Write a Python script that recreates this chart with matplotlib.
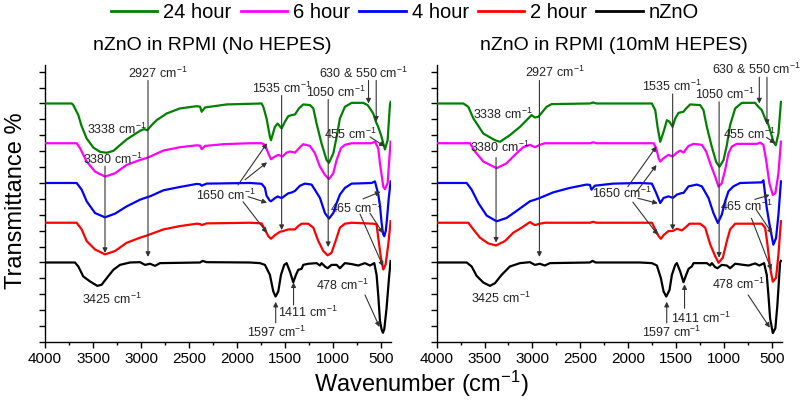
import matplotlib
matplotlib.use("Agg")
import matplotlib.pyplot as plt
from matplotlib.lines import Line2D
import numpy as np

plt.rcParams['font.family'] = ['Liberation Sans', 'DejaVu Sans']
plt.rcParams['mathtext.fontset'] = 'custom'
plt.rcParams['mathtext.rm'] = 'Liberation Sans'
plt.rcParams['mathtext.it'] = 'Liberation Sans:italic'
plt.rcParams['mathtext.bf'] = 'Liberation Sans:bold'

# ---------------- data ----------------
SERIES = ['24 hour', '6 hour', '4 hour', '2 hour', 'nZnO']
COLORS = ['#008000', '#ff00ff', '#0000ff', '#ff0000', '#000000']
BASELINES = [15, 12.5, 10, 7.5, 5]
PANEL_TITLES = ['nZnO in RPMI (No HEPES)', 'nZnO in RPMI (10mM HEPES)']
XTICKS = [4000, 3500, 3000, 2500, 2000, 1500, 1000, 500]

# Left panel (No HEPES)
L24_WN = [4000, 3722, 3705, 3653, 3620, 3566, 3497, 3427, 3358, 3288, 3219, 3149, 3080, 3010, 2969, 2934, 2889, 2837, 2733, 2594, 2420, 2385, 2368, 2333, 2108, 1865, 1744, 1726, 1692, 1657, 1646, 1605, 1577, 1535, 1501, 1466, 1431, 1396, 1355, 1310, 1240, 1205, 1171, 1119, 1067, 1042, 997, 962, 928, 876, 806, 685, 640, 615, 581, 553, 529, 494, 459, 431, 407, 400]
L24_T = [0, 0, -0.10, -0.73, -1.40, -2.20, -2.77, -3.04, -3.10, -2.98, -2.62, -2.26, -1.99, -1.72, -1.61, -1.68, -1.36, -1.05, -0.63, -0.31, -0.17, -0.20, -0.52, -0.25, -0.06, -0.02, 0, -0.21, -0.94, -2.10, -2.31, -1.47, -1.26, -1.57, -1.15, -0.80, -0.73, -0.69, -0.31, -0.06, -0.10, -0.31, -1.26, -2.52, -3.56, -3.73, -3.14, -2.10, -0.94, -0.21, 0.04, 0.04, -0.10, -0.31, -0.63, -1.15, -1.47, -2.10, -2.89, -2.31, -0.10, 0.10]

L6_WN = [4000, 3670, 3635, 3566, 3479, 3375, 3271, 3149, 3010, 2948, 2906, 2767, 2594, 2420, 2385, 2368, 2333, 2142, 1865, 1744, 1709, 1674, 1646, 1605, 1570, 1528, 1483, 1449, 1396, 1344, 1310, 1240, 1188, 1136, 1084, 1042, 997, 962, 917, 876, 806, 598, 563, 529, 511, 476, 459, 431, 414, 400]
L6_T = [0, 0, -0.31, -1.15, -1.78, -2.10, -1.89, -1.36, -1.05, -0.94, -0.84, -0.46, -0.25, -0.13, -0.15, -0.38, -0.17, -0.06, 0, 0, -0.10, -0.63, -1.01, -0.84, -0.73, -0.84, -0.59, -0.52, -0.59, -0.25, -0.06, -0.17, -0.63, -1.47, -1.99, -2.26, -1.89, -1.05, -0.31, -0.10, 0, 0, 0.10, -0.31, -1.26, -2.73, -2.89, -2.52, -1.05, 0.10]

L4_WN = [4000, 3670, 3618, 3566, 3479, 3375, 3271, 3149, 3010, 2958, 2906, 2767, 2594, 2420, 2385, 2368, 2316, 1865, 1744, 1709, 1692, 1660, 1646, 1605, 1577, 1535, 1501, 1466, 1431, 1396, 1344, 1292, 1223, 1181, 1136, 1084, 1042, 997, 962, 928, 876, 806, 598, 563, 529, 511, 494, 478, 466, 450, 438, 420, 400]
L4_T = [0, 0, -0.42, -1.15, -1.89, -2.16, -1.93, -1.47, -1.05, -0.94, -0.84, -0.46, -0.25, -0.06, -0.08, -0.17, -0.04, 0, -0.05, -0.30, -0.80, -1.10, -1.15, -0.95, -0.85, -0.95, -0.80, -0.65, -0.60, -0.50, -0.17, -0.04, -0.10, -0.50, -0.94, -1.89, -2.24, -1.89, -1.26, -0.73, -0.31, -0.04, 0, 0.10, -0.70, -1.40, -2.50, -3.20, -3.35, -3.00, -2.30, -1.00, 0.10]

L2_WN = [4000, 3670, 3618, 3566, 3479, 3375, 3271, 3149, 3010, 2958, 2906, 2767, 2594, 2420, 2385, 2368, 2316, 1865, 1744, 1709, 1674, 1646, 1605, 1553, 1518, 1466, 1396, 1362, 1327, 1258, 1205, 1153, 1101, 1056, 1015, 973, 928, 876, 806, 580, 546, 529, 501, 476, 452, 424, 400]
L2_T = [0, 0, -0.42, -1.15, -1.68, -1.99, -1.78, -1.26, -0.94, -0.84, -0.73, -0.42, -0.21, -0.06, -0.08, -0.15, -0.04, 0, -0.04, -0.42, -0.84, -1.01, -0.78, -0.57, -0.52, -0.42, -0.42, -0.21, -0.06, -0.06, -0.31, -1.15, -1.78, -2.05, -1.89, -1.15, -0.31, -0.06, 0, -0.06, -0.10, -0.94, -2.20, -2.94, -2.62, -1.36, 0.10]

L0_WN = [4000, 3688, 3653, 3601, 3531, 3455, 3410, 3358, 3288, 3219, 3115, 3010, 2958, 2906, 2854, 2802, 2385, 2358, 2316, 1865, 1761, 1709, 1657, 1622, 1598, 1570, 1542, 1508, 1483, 1449, 1414, 1386, 1362, 1327, 1310, 1258, 1171, 1136, 1119, 1084, 1056, 1015, 962, 928, 876, 806, 737, 667, 615, 570, 546, 529, 511, 494, 480, 466, 442, 417, 400]
L0_T = [0, 0, -0.25, -0.88, -1.19, -1.47, -1.40, -0.99, -0.46, -0.15, 0, 0.02, -0.15, -0.08, -0.21, -0.04, 0, 0.10, 0.02, 0, -0.04, -0.15, -0.78, -1.82, -2.14, -1.82, -0.78, -0.15, -0.04, -0.57, -1.24, -0.78, -0.46, -0.40, -0.15, -0.08, -0.04, -0.19, -0.04, -0.25, -0.36, -0.15, -0.15, -0.36, -0.04, -0.10, -0.19, -0.04, -0.19, -0.04, -0.78, -2.03, -3.65, -4.20, -4.42, -4.20, -2.87, -0.99, 0.10]

# Right panel (10mM HEPES)
R24_WN = [4000, 3722, 3670, 3617, 3513, 3391, 3339, 3235, 3130, 3043, 3009, 2974, 2939, 2904, 2852, 2800, 2400, 2365, 2330, 1878, 1752, 1717, 1693, 1665, 1630, 1595, 1568, 1536, 1508, 1474, 1422, 1394, 1352, 1248, 1213, 1178, 1126, 1081, 1046, 1004, 969, 935, 882, 813, 674, 639, 604, 569, 545, 517, 483, 458, 430, 404]
R24_T = [0, 0, -0.21, -0.94, -1.89, -2.31, -2.41, -1.99, -1.47, -0.94, -0.73, -0.88, -0.84, -0.59, -0.21, -0.04, 0, 0.06, 0, 0, 0, -0.42, -1.47, -2.41, -1.78, -1.05, -1.15, -1.47, -0.94, -0.59, -0.52, -0.31, -0.06, -0.10, -0.42, -1.47, -2.73, -3.67, -3.98, -3.56, -2.62, -1.36, -0.31, 0.04, 0.04, -0.21, -0.42, -0.94, -1.15, -1.68, -2.41, -2.62, -1.89, 0.10]

R6_WN = [4000, 3652, 3600, 3513, 3374, 3270, 3183, 3096, 3026, 2974, 2922, 2870, 2400, 2365, 2330, 1878, 1735, 1707, 1682, 1665, 1630, 1578, 1536, 1491, 1456, 1422, 1369, 1317, 1230, 1185, 1143, 1091, 1056, 1022, 987, 952, 917, 865, 656, 622, 587, 559, 524, 489, 462, 430, 404]
R6_T = [0, 0, -0.52, -1.15, -1.57, -1.26, -0.73, -0.25, -0.10, -0.25, -0.10, 0, 0, 0.06, 0, 0, 0, -0.31, -0.94, -1.15, -0.94, -0.73, -0.84, -0.59, -0.46, -0.59, -0.17, -0.04, -0.10, -0.52, -1.26, -2.10, -2.73, -2.52, -1.68, -0.63, -0.21, -0.04, -0.04, 0.04, -0.10, -1.05, -2.52, -3.25, -3.14, -1.89, 0.10]

R4_WN = [4000, 3687, 3635, 3565, 3478, 3374, 3270, 3148, 3026, 2974, 2922, 2783, 2609, 2435, 2400, 2383, 2348, 2157, 1878, 1752, 1707, 1665, 1630, 1578, 1533, 1491, 1439, 1422, 1369, 1283, 1230, 1161, 1109, 1063, 1022, 987, 952, 900, 830, 604, 587, 552, 517, 483, 455, 430, 404]
R4_T = [0, 0, -0.42, -1.26, -2.05, -2.41, -2.20, -1.68, -1.15, -1.05, -0.94, -0.59, -0.31, -0.10, -0.12, -0.42, -0.17, -0.04, 0, -0.04, -0.63, -1.26, -0.94, -0.84, -0.94, -0.73, -0.63, -0.63, -0.21, -0.10, -0.21, -0.94, -1.89, -2.52, -1.99, -1.15, -0.52, -0.21, 0, 0.04, 0.17, -1.57, -2.83, -3.88, -3.46, -1.99, 0.10]

R2_WN = [4000, 3670, 3617, 3548, 3461, 3381, 3287, 3200, 3113, 3026, 2974, 2922, 2870, 2400, 2365, 2330, 1878, 1752, 1717, 1682, 1658, 1630, 1578, 1533, 1491, 1439, 1404, 1359, 1248, 1195, 1143, 1091, 1056, 1011, 969, 935, 882, 604, 569, 545, 517, 489, 455, 430, 404]
R2_T = [0, 0, -0.42, -0.94, -1.30, -1.43, -1.15, -0.63, -0.31, 0.04, -0.15, -0.06, 0, 0, 0.06, 0, 0, 0, -0.42, -0.84, -1.01, -0.78, -0.52, -0.52, -0.38, -0.48, -0.31, -0.06, -0.06, -0.31, -1.36, -2.10, -2.52, -2.20, -1.15, -0.42, -0.06, -0.06, -0.31, -1.36, -2.83, -3.71, -3.46, -1.99, 0.10]

R0_WN = [4000, 3687, 3635, 3583, 3513, 3443, 3391, 3322, 3235, 3130, 3026, 2974, 2922, 2870, 2817, 2400, 2372, 2340, 1878, 1752, 1700, 1658, 1630, 1602, 1568, 1543, 1508, 1491, 1456, 1422, 1394, 1369, 1335, 1317, 1178, 1143, 1126, 1091, 1067, 1022, 969, 935, 882, 743, 674, 629, 580, 552, 535, 517, 489, 462, 441, 413, 404]
R0_T = [0, 0, -0.25, -0.84, -1.26, -1.47, -1.30, -0.78, -0.25, -0.04, 0.02, -0.15, -0.08, -0.19, -0.04, 0, 0.10, 0, 0, -0.04, -0.19, -0.99, -1.82, -2.14, -1.73, -0.78, -0.15, -0.04, -0.57, -1.24, -0.78, -0.40, -0.25, -0.04, -0.04, -0.19, -0.04, -0.29, -0.36, -0.15, -0.19, -0.36, -0.08, -0.19, -0.06, -0.19, -0.04, -0.78, -2.03, -3.52, -4.44, -4.13, -2.66, 0, 0.10]

LEFT = [(L24_WN, L24_T), (L6_WN, L6_T), (L4_WN, L4_T), (L2_WN, L2_T), (L0_WN, L0_T)]
RIGHT = [(R24_WN, R24_T), (R6_WN, R6_T), (R4_WN, R4_T), (R2_WN, R2_T), (R0_WN, R0_T)]

# ---------------- figure ----------------
W, H = 800, 404
fig = plt.figure(figsize=(W / 100, H / 100), dpi=100)
axL = fig.add_axes([45 / W, 62 / H, 345.6 / W, 277 / H])
axR = fig.add_axes([436.7 / W, 62 / H, 345.0 / W, 277 / H])

ACOL = '#333333'


def lab(ax, x, y, num, **kw):
    ax.text(x, y, num + r' cm$^{-1}$', fontsize=9, ha='center', va='center',
            color='#222222', zorder=6, **kw)


def arr(ax, tail, head):
    ax.annotate('', xy=head, xytext=tail,
                arrowprops=dict(arrowstyle='-|>', color=ACOL, lw=0.8,
                                mutation_scale=7, shrinkA=0, shrinkB=0),
                zorder=5)


for ax, spectra, xmin in ((axL, LEFT, 400), (axR, RIGHT, 396)):
    for (wn, t), base, col in zip(spectra, BASELINES, COLORS):
        ax.plot(wn, np.asarray(t) + base, color=col, lw=1.6, solid_joinstyle='round', zorder=3)
    ax.set_xlim(4000, xmin)
    ax.set_ylim(0, 17.42)
    for s in ('top', 'right'):
        ax.spines[s].set_visible(False)
    for s in ('left', 'bottom'):
        ax.spines[s].set_linewidth(1.0)
    ax.set_xticks(XTICKS)
    ax.set_xticks(np.arange(3750, 399, -500), minor=True)
    ax.set_yticks(np.arange(0, 18))
    ax.set_yticklabels([])
    ax.tick_params(axis='x', which='major', direction='out', length=4, width=1, labelsize=11, pad=3)
    ax.tick_params(axis='x', which='minor', direction='out', length=2.5, width=1)
    ax.tick_params(axis='y', which='major', direction='out', length=4, width=1)

# ---- left panel annotations ----
ax = axL
lab(ax, 2823, 16.9, '2927'); arr(ax, (2927, 16.45), (2927, 5.35))
lab(ax, 3250, 13.4, '3338')
lab(ax, 3292, 11.5, '3380'); arr(ax, (3375, 11.05), (3375, 5.6))
lab(ax, 3302, 2.7, '3425')
lab(ax, 1531, 15.97, '1535'); arr(ax, (1535, 15.5), (1535, 7.04))
lab(ax, 969, 15.72, '1050'); arr(ax, (1050, 15.25), (1050, 5.97))
ax.text(687, 16.9, r'630 & 550 cm$^{-1}$', fontsize=9, ha='center', va='center', color='#222222', zorder=6)
arr(ax, (630, 16.45), (630, 15.0)); arr(ax, (550, 16.45), (550, 13.86))
lab(ax, 823, 13.08, '455'); arr(ax, (615, 12.9), (462, 12.3))
lab(ax, 2115, 9.25, '1650')
arr(ax, (1990, 9.87), (1687, 12.5)); arr(ax, (1917, 10.2), (1687, 11.3))
arr(ax, (1885, 9.14), (1687, 8.76)); arr(ax, (1937, 8.82), (1687, 6.86))
lab(ax, 760, 8.43, '465')
arr(ax, (687, 9.0), (505, 9.45)); arr(ax, (615, 8.1), (479, 6.84)); arr(ax, (719, 8.05), (478, 4.75))
lab(ax, 906, 3.58, '478'); arr(ax, (667, 2.96), (515, 0.94))
lab(ax, 1583, 0.63, '1597'); arr(ax, (1597, 1.2), (1597, 2.53))
lab(ax, 1260, 1.89, '1411'); arr(ax, (1411, 2.33), (1411, 3.75))

# ---- right panel annotations ----
ax = axR
lab(ax, 2765, 16.94, '2927'); arr(ax, (2927, 16.45), (2927, 5.35))
lab(ax, 3308, 14.3, '3338')
lab(ax, 3339, 12.24, '3380'); arr(ax, (3380, 11.6), (3380, 6.25))
lab(ax, 3328, 2.77, '3425')
lab(ax, 1544, 16.1, '1535'); arr(ax, (1535, 15.6), (1535, 7.04))
lab(ax, 988, 15.6, '1050'); arr(ax, (1050, 15.1), (1050, 5.3))
ax.text(656, 17.17, r'630 & 550 cm$^{-1}$', fontsize=9, ha='center', va='center', color='#222222', zorder=6)
arr(ax, (630, 16.65), (630, 15.0)); arr(ax, (550, 16.65), (550, 13.65))
lab(ax, 729, 13.08, '455'); arr(ax, (556, 12.87), (461, 12.5))
lab(ax, 2066, 9.37, '1650')
arr(ax, (2003, 9.77), (1704, 12.3)); arr(ax, (1912, 9.45), (1704, 11.13))
arr(ax, (1899, 9.04), (1690, 8.72)); arr(ax, (1951, 8.8), (1690, 6.73))
lab(ax, 760, 8.55, '465')
arr(ax, (677, 8.97), (521, 9.25)); arr(ax, (660, 8.3), (493, 6.81)); arr(ax, (712, 7.78), (503, 4.53))
lab(ax, 845, 3.63, '478'); arr(ax, (747, 2.96), (520, 0.9))
lab(ax, 1544, 0.63, '1597'); arr(ax, (1597, 1.2), (1597, 2.53))
lab(ax, 1240, 1.5, '1411'); arr(ax, (1411, 2.12), (1411, 3.63))

# ---- titles, labels, legend ----
fig.text(212 / W, 1 - 45 / H, PANEL_TITLES[0], fontsize=14, ha='center', va='center')
fig.text(614 / W, 1 - 45 / H, PANEL_TITLES[1], fontsize=14, ha='center', va='center')
fig.text(421 / W, 1 - 384 / H, r'Wavenumber (cm$^{-1}$)', fontsize=17, ha='center', va='center')
fig.text(16 / W, 1 - 201 / H, 'Transmittance %', fontsize=17, rotation=90, ha='center', va='center')

handles = [Line2D([], [], color=c, lw=2) for c in COLORS]
fig.legend(handles, SERIES, loc='center', bbox_to_anchor=(405 / W, 1 - 13 / H), ncol=5,
           frameon=False, fontsize=14.5, handlelength=2.3, handletextpad=0.3,
           columnspacing=0.45, borderaxespad=0, borderpad=0)

fig.savefig('out.png', dpi=100)
